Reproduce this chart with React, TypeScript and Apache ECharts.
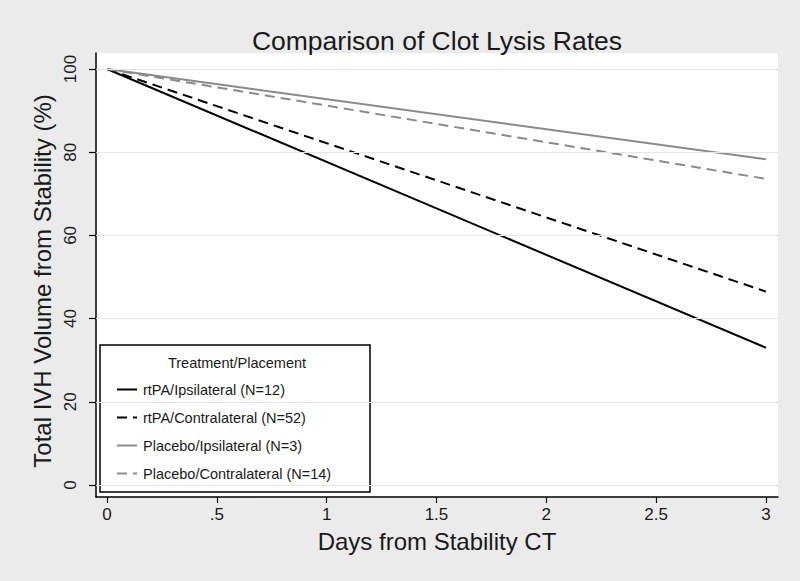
import React, { useEffect, useRef } from "react";
import * as echarts from "echarts";

const days = [0, 3];
const rtpaIpsi = [100, 33];
const rtpaContra = [100, 46.5];
const placeboIpsi = [100, 78.3];
const placeboContra = [100, 73.6];
const seriesNames = [
  "rtPA/Ipsilateral (N=12)",
  "rtPA/Contralateral (N=52)",
  "Placebo/Ipsilateral (N=3)",
  "Placebo/Contralateral (N=14)",
];
const xTicks = [0, 0.5, 1, 1.5, 2, 2.5, 3];
const xTickLabels = ["0", ".5", "1", "1.5", "2", "2.5", "3"];
const yTicks = [0, 20, 40, 60, 80, 100];
const yTickLabels = ["0", "20", "40", "60", "80", "100"];

const FONT = '"Liberation Sans", Arial, Helvetica, sans-serif';

export default function App() {
  const ref = useRef<HTMLDivElement>(null);
  useEffect(() => {
    const chart = echarts.init(ref.current!, null, { renderer: "svg" });
    const mk = (vals: number[]) => days.map((d, i) => [d, vals[i]]);
    const lineSeries = (name: string, vals: number[], color: string, dashed: boolean) => ({
      name,
      type: "line",
      data: mk(vals),
      symbol: "none",
      showSymbol: false,
      z: 2,
      lineStyle: { color, width: 2, type: dashed ? [10, 6] : "solid" },
      itemStyle: { color },
    });
    const option: any = {
      animation: false,
      backgroundColor: "#ebebeb",
      textStyle: { fontFamily: FONT },
      title: {
        text: "Comparison of Clot Lysis Rates",
        left: 432,
        textAlign: "center",
        top: 22,
        textStyle: { fontSize: 26.5, fontWeight: "normal", color: "#1a1a1a", fontFamily: FONT },
      },
      grid: {
        left: 96,
        right: 22,
        top: 53,
        bottom: 84,
        show: true,
        backgroundColor: "#ffffff",
        borderWidth: 0,
      },
      xAxis: {
        type: "value",
        min: -0.05,
        max: 3.055,
        name: "Days from Stability CT",
        nameLocation: "middle",
        nameGap: 32,
        nameTextStyle: { fontSize: 24, color: "#1a1a1a", fontFamily: FONT },
        axisLine: { show: true, onZero: false, lineStyle: { color: "#000", width: 1.5 } },
        axisTick: { show: true, customValues: xTicks, length: 6, lineStyle: { color: "#000", width: 1.2 } },
        axisLabel: {
          customValues: xTicks,
          formatter: (v: number) => xTickLabels[xTicks.indexOf(v)] ?? String(v),
          fontSize: 17,
          color: "#1a1a1a",
          margin: 9,
          fontFamily: FONT,
        },
        splitLine: { show: false },
      },
      yAxis: {
        type: "value",
        min: -2.88,
        max: 103.85,
        name: "Total IVH Volume from Stability (%)",
        nameLocation: "middle",
        nameGap: 38,
        nameTextStyle: { fontSize: 24, color: "#1a1a1a", fontFamily: FONT, padding: [0, 12, 0, 0] },
        axisLine: { show: true, onZero: false, lineStyle: { color: "#000", width: 1.5 } },
        axisTick: { show: true, customValues: yTicks, length: 7, lineStyle: { color: "#000", width: 1.2 } },
        axisLabel: {
          customValues: yTicks,
          rotate: 90,
          formatter: (v: number) => yTickLabels[yTicks.indexOf(v)] ?? String(v),
          fontSize: 17,
          color: "#1a1a1a",
          margin: 17,
          fontFamily: FONT,
        },
        splitLine: { show: false },
      },
      legend: {
        data: seriesNames,
        orient: "vertical",
        left: 111,
        top: 377,
        itemWidth: 20,
        itemHeight: 14,
        itemGap: 13,
        selectedMode: false,
        z: 5,
        itemStyle: { color: "transparent", borderWidth: 0, opacity: 0 },
        textStyle: { fontSize: 14.5, color: "#1a1a1a", fontFamily: FONT, padding: [0, 0, 0, 1] },
      },
      graphic: [
        {
          type: "rect",
          z: 3,
          shape: { x: 100, y: 345, width: 270, height: 147 },
          style: { fill: "#fff", stroke: "#000", lineWidth: 1.5 },
        },
        {
          type: "text",
          z: 6,
          x: 237,
          y: 363,
          style: {
            text: "Treatment/Placement",
            align: "center",
            verticalAlign: "middle",
            fontSize: 14.5,
            fontFamily: FONT,
            fill: "#1a1a1a",
          },
        },
      ],
      series: [
        {
          name: "grid",
          type: "line",
          data: [[0, 100]],
          symbol: "none",
          showSymbol: false,
          lineStyle: { width: 0 },
          z: 1,
          silent: true,
          markLine: {
            silent: true,
            symbol: ["none", "none"],
            label: { show: false },
            lineStyle: { color: "#e6e6e6", width: 1.2, type: "solid" },
            data: yTicks.map((v) => ({ yAxis: v })),
          },
        },
        lineSeries(seriesNames[0], rtpaIpsi, "#000", false),
        lineSeries(seriesNames[1], rtpaContra, "#000", true),
        lineSeries(seriesNames[2], placeboIpsi, "#8a8a8a", false),
        lineSeries(seriesNames[3], placeboContra, "#8a8a8a", true),
      ],
    };
    chart.setOption(option);
    return () => chart.dispose();
  }, []);
  return (
    <div
      ref={ref}
      style={{ position: "fixed", left: 0, top: 0, width: 800, height: 581 }}
    />
  );
}
